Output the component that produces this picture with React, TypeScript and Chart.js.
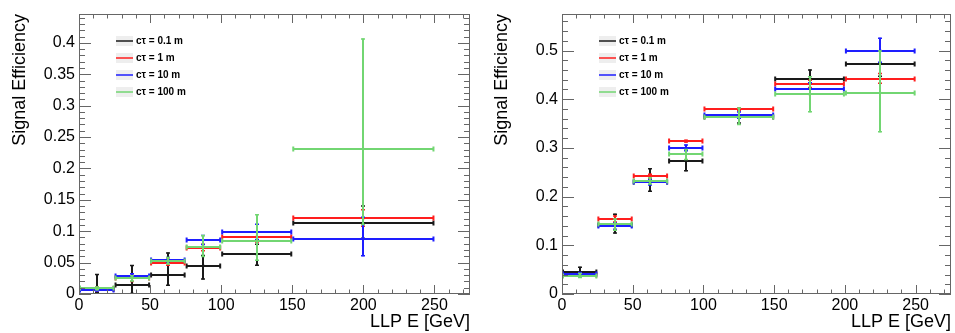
import React, { useEffect, useRef } from "react";
import { Chart, registerables } from "chart.js";

Chart.register(...registerables);

// ---------- labels ----------
const seriesNames = ["cτ = 0.1 m", "cτ = 1 m", "cτ = 10 m", "cτ = 100 m"];
const seriesColors = ["#1a1a1a", "#ff1e1e", "#1e1eff", "#72d672"];
const xTitle = "LLP E [GeV]";
const yTitle = "Signal Efficiency";

// ---------- tick labels ----------
const xTicks = [0, 50, 100, 150, 200, 250];
const leftYTicks = [0, 0.05, 0.1, 0.15, 0.2, 0.25, 0.3, 0.35, 0.4];
const rightYTicks = [0, 0.1, 0.2, 0.3, 0.4, 0.5];

// ---------- left panel: bin edges, values, error band (low/high ends) ----------
const leftEdges = [0, 25, 50, 75, 100, 150, 250];

const leftBlack = [0.008, 0.0143, 0.03, 0.045, 0.063, 0.1125];
const leftBlackLo = [0.001, 0.0, 0.013, 0.023, 0.045, 0.088];
const leftBlackHi = [0.032, 0.046, 0.066, 0.062, 0.08, 0.141];

const leftRed = [0.008, 0.026, 0.05, 0.074, 0.0913, 0.1205];
const leftRedLo = [0.004, 0.019, 0.045, 0.068, 0.082, 0.107];
const leftRedHi = [0.012, 0.033, 0.056, 0.08, 0.1, 0.135];

const leftBlue = [0.007, 0.0287, 0.0547, 0.086, 0.0987, 0.0876];
const leftBlueLo = [0.004, 0.025, 0.05, 0.078, 0.086, 0.06];
const leftBlueHi = [0.01, 0.033, 0.059, 0.094, 0.112, 0.123];

const leftGreen = [0.009, 0.025, 0.053, 0.075, 0.0844, 0.231];
const leftGreenLo = [0.006, 0.02, 0.047, 0.059, 0.053, 0.11];
const leftGreenHi = [0.012, 0.03, 0.059, 0.094, 0.127, 0.407];

// ---------- right panel ----------
const rightEdges = [0, 25, 50, 75, 100, 150, 200, 250];

const rightBlack = [0.0445, 0.141, 0.2305, 0.274, 0.364, 0.4405, 0.473];
const rightBlackLo = [0.034, 0.124, 0.21, 0.252, 0.35, 0.42, 0.446];
const rightBlackHi = [0.056, 0.165, 0.258, 0.3, 0.378, 0.461, 0.5];

const rightRed = [0.04, 0.154, 0.2415, 0.314, 0.3796, 0.4316, 0.4425];
const rightRedLo = [0.036, 0.147, 0.236, 0.311, 0.376, 0.423, 0.432];
const rightRedHi = [0.044, 0.161, 0.247, 0.317, 0.383, 0.44, 0.454];

const rightBlue = [0.041, 0.1395, 0.2298, 0.3, 0.368, 0.422, 0.5];
const rightBlueLo = [0.037, 0.132, 0.223, 0.293, 0.36, 0.41, 0.475];
const rightBlueHi = [0.045, 0.147, 0.236, 0.307, 0.375, 0.435, 0.526];

const rightGreen = [0.0376, 0.1436, 0.232, 0.288, 0.364, 0.41, 0.413];
const rightGreenLo = [0.033, 0.13, 0.225, 0.275, 0.347, 0.373, 0.332];
const rightGreenHi = [0.043, 0.155, 0.24, 0.298, 0.383, 0.447, 0.5];

const FONT = "'Liberation Sans', Arial, Helvetica, sans-serif";

function makeDataset(
  idx: number,
  edges: number[],
  vals: number[],
  lo: number[],
  hi: number[]
) {
  return {
    label: seriesNames[idx],
    data: vals.map((v, i) => ({ x: (edges[i] + edges[i + 1]) / 2, y: v })),
    edges,
    errLo: lo,
    errHi: hi,
    borderColor: seriesColors[idx],
    backgroundColor: seriesColors[idx],
    pointStyle: "rect",
    pointRadius: 1.5,
    pointBorderWidth: 0,
    showLine: false,
    order: 4 - idx,
  } as any;
}

const errorBarPlugin = {
  id: "errbars",
  beforeDatasetDraw(chart: any, args: any) {
    const ds = chart.data.datasets[args.index];
    const xs = chart.scales.x;
    const ys = chart.scales.y;
    const ctx = chart.ctx;
    const a = chart.chartArea;
    ctx.save();
    ctx.beginPath();
    ctx.rect(a.left, a.top, a.right - a.left, a.bottom - a.top);
    ctx.clip();
    ctx.strokeStyle = ds.borderColor;
    ctx.lineCap = "butt";
    ds.data.forEach((p: any, i: number) => {
      const x0 = xs.getPixelForValue(ds.edges[i]);
      const x1 = xs.getPixelForValue(ds.edges[i + 1]);
      const y = Math.round(ys.getPixelForValue(p.y));
      const xc = Math.round(xs.getPixelForValue(p.x));
      const yl = ys.getPixelForValue(ds.errLo[i]);
      const yh = ys.getPixelForValue(ds.errHi[i]);
      ctx.lineWidth = 2;
      ctx.beginPath();
      ctx.moveTo(x0, y);
      ctx.lineTo(x1, y);
      ctx.moveTo(x0 + 1, y - 2.5);
      ctx.lineTo(x0 + 1, y + 2.5);
      ctx.moveTo(x1 - 1, y - 2.5);
      ctx.lineTo(x1 - 1, y + 2.5);
      ctx.moveTo(xc, yl);
      ctx.lineTo(xc, yh);
      ctx.stroke();
      ctx.lineWidth = 1.5;
      ctx.beginPath();
      ctx.moveTo(xc - 2, yl - 0.5);
      ctx.lineTo(xc + 2, yl - 0.5);
      ctx.moveTo(xc - 2, yh + 0.5);
      ctx.lineTo(xc + 2, yh + 0.5);
      ctx.stroke();
    });
    ctx.restore();
  },
};

const framePlugin = {
  id: "rootframe",
  afterDatasetsDraw(chart: any) {
    const o = chart.options.plugins.rootframe;
    const xs = chart.scales.x;
    const ys = chart.scales.y;
    const ctx = chart.ctx;
    const a = chart.chartArea;
    ctx.save();
    ctx.strokeStyle = "#666";
    ctx.lineWidth = 1;
    ctx.strokeRect(
      Math.round(a.left) + 0.5,
      Math.round(a.top) + 0.5,
      Math.round(a.right - a.left) - 1,
      Math.round(a.bottom - a.top) - 1
    );
    ctx.beginPath();
    // x ticks (bottom & top)
    for (let k = 0; k * o.xMinor <= 275 + 1e-9; k++) {
      const v = k * o.xMinor;
      const major = xTicks.some((t) => Math.abs(t - v) < 1e-6);
      const len = major ? 9 : 4.5;
      const px = Math.round(xs.getPixelForValue(v)) + 0.5;
      ctx.moveTo(px, a.bottom);
      ctx.lineTo(px, a.bottom - len);
      ctx.moveTo(px, a.top);
      ctx.lineTo(px, a.top + len);
    }
    // y ticks (left & right)
    const ymax = ys.max;
    for (let k = 0; k * o.yMinor <= ymax + 1e-9; k++) {
      const v = k * o.yMinor;
      const major = o.yTicks.some((t: number) => Math.abs(t - v) < 1e-6);
      const len = major ? 12 : 6;
      const py = Math.round(ys.getPixelForValue(v)) + 0.5;
      ctx.moveTo(a.left, py);
      ctx.lineTo(a.left + len, py);
      ctx.moveTo(a.right, py);
      ctx.lineTo(a.right - len, py);
    }
    ctx.stroke();
    ctx.restore();
  },
  afterDraw(chart: any) {
    const ctx = chart.ctx;
    const a = chart.chartArea;
    const left = a.left + 37;
    const top = a.top + 26.7;
    ctx.save();
    chart.data.datasets.forEach((ds: any, i: number) => {
      const y = Math.round(top + i * 17);
      ctx.fillStyle = "#eeeeee";
      ctx.fillRect(left, y - 5, 17, 10);
      ctx.strokeStyle = ds.borderColor;
      ctx.lineWidth = 1.5;
      ctx.beginPath();
      ctx.moveTo(left, y);
      ctx.lineTo(left + 17, y);
      ctx.stroke();
      ctx.fillStyle = "#000";
      ctx.font = `bold 10px ${FONT}`;
      ctx.textBaseline = "middle";
      ctx.textAlign = "left";
      ctx.fillText(ds.label, left + 20, y + 0.5);
    });
    ctx.restore();
  },
};

function fmt(v: number) {
  return String(parseFloat(Number(v).toFixed(3)));
}

function buildConfig(
  datasets: any[],
  yTicks: number[],
  yMax: number,
  yMinor: number,
  yWidth: number,
  padRight: number,
  yTitlePad: number
) {
  return {
    type: "scatter",
    data: { datasets },
    plugins: [errorBarPlugin, framePlugin],
    options: {
      responsive: false,
      animation: false,
      devicePixelRatio: 1,
      layout: { padding: { left: 0, right: padRight, top: 14, bottom: 0 } },
      plugins: {
        legend: { display: false },
        tooltip: { enabled: false },
        rootframe: { xMinor: 10, yMinor, yTicks },
      },
      scales: {
        x: {
          type: "linear",
          min: 0,
          max: 275,
          grid: { display: false, drawTicks: false },
          border: { display: false },
          afterBuildTicks: (s: any) => {
            s.ticks = xTicks.map((v) => ({ value: v }));
          },
          afterFit: (s: any) => {
            s.height = 39;
          },
          ticks: {
            autoSkip: false,
            maxRotation: 0,
            padding: 4,
            color: "#000",
            font: { family: FONT, size: 16, lineHeight: 1 },
            callback: (v: any) => fmt(v),
          },
          title: {
            display: true,
            text: xTitle,
            align: "end",
            color: "#000",
            font: { family: FONT, size: 18, lineHeight: 1 },
            padding: { top: 0, bottom: 2 },
          },
        },
        y: {
          type: "linear",
          min: 0,
          max: yMax,
          grid: { display: false, drawTicks: false },
          border: { display: false },
          afterBuildTicks: (s: any) => {
            s.ticks = yTicks.map((v) => ({ value: v }));
          },
          afterFit: (s: any) => {
            s.width = yWidth;
          },
          ticks: {
            autoSkip: false,
            padding: 4,
            color: "#000",
            font: { family: FONT, size: 16, lineHeight: 1 },
            callback: (v: any) => fmt(v),
          },
          title: {
            display: true,
            text: yTitle,
            align: "end",
            color: "#000",
            font: { family: FONT, size: 18, lineHeight: 1 },
            padding: { top: yTitlePad, bottom: 0 },
          },
        },
      },
    },
  } as any;
}

function Panel(props: { width: number; config: () => any }) {
  const ref = useRef<HTMLCanvasElement | null>(null);
  useEffect(() => {
    if (!ref.current) return;
    const chart = new Chart(ref.current, props.config());
    return () => chart.destroy();
  }, []);
  return (
    <canvas
      ref={ref}
      width={props.width}
      height={333}
      style={{ display: "block", width: props.width, height: 333 }}
    />
  );
}

export default function App() {
  const leftConfig = () =>
    buildConfig(
      [
        makeDataset(0, leftEdges, leftBlack, leftBlackLo, leftBlackHi),
        makeDataset(1, leftEdges, leftRed, leftRedLo, leftRedHi),
        makeDataset(2, leftEdges, leftBlue, leftBlueLo, leftBlueHi),
        makeDataset(3, leftEdges, leftGreen, leftGreenLo, leftGreenHi),
      ],
      leftYTicks,
      0.446,
      0.01,
      79,
      10,
      11
    );
  const rightConfig = () =>
    buildConfig(
      [
        makeDataset(0, rightEdges, rightBlack, rightBlackLo, rightBlackHi),
        makeDataset(1, rightEdges, rightRed, rightRedLo, rightRedHi),
        makeDataset(2, rightEdges, rightBlue, rightBlueLo, rightBlueHi),
        makeDataset(3, rightEdges, rightGreen, rightGreenLo, rightGreenHi),
      ],
      rightYTicks,
      0.575,
      0.02,
      82,
      2,
      13
    );
  return (
    <div
      style={{
        position: "absolute",
        left: 0,
        top: 0,
        width: 955,
        height: 333,
        display: "flex",
        background: "#fff",
      }}
    >
      <Panel width={480} config={leftConfig} />
      <Panel width={475} config={rightConfig} />
    </div>
  );
}
